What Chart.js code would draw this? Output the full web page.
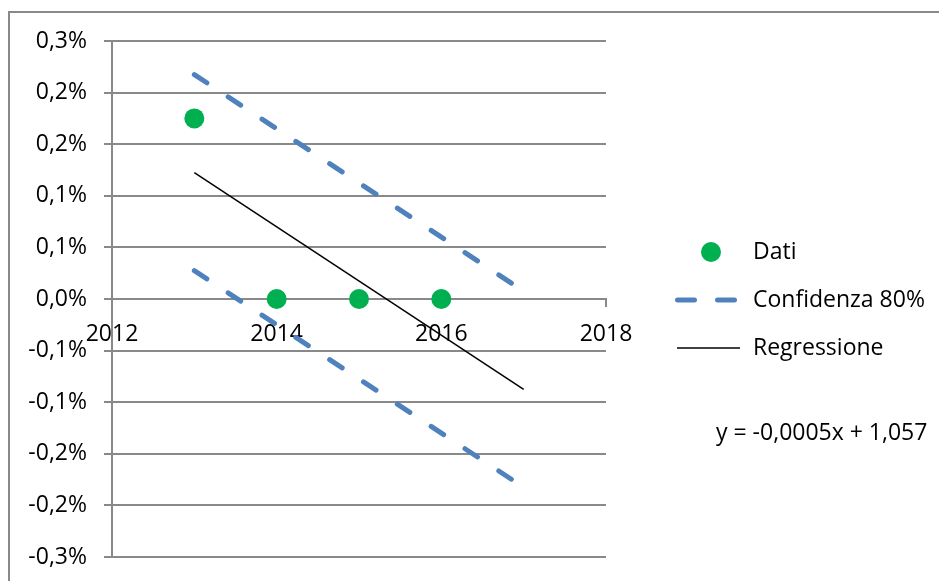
<!DOCTYPE html>
<html>
<head>
<meta charset="utf-8">
<script src="https://cdn.jsdelivr.net/npm/chart.js"></script>
<style>
  html, body { margin: 0; padding: 0; background: #fff; overflow: hidden; }
  #wrap { position: relative; width: 939px; height: 581px; }
  #frame { position: absolute; left: 8px; top: 11px; width: 1000px; height: 1000px; border: 2px solid #898989; }
  canvas { position: absolute; left: 0; top: 0; }
</style>
</head>
<body>
<div id="wrap">
  <div id="frame"></div>
  <canvas id="myChart" width="939" height="581"></canvas>
</div>
<script>
// data
const dataYears = [2013, 2014, 2015, 2016];
const dataValues = [0.00175, 0, 0, 0];

const lineYears = [2013, 2017];
const regressionValues = [0.001225, -0.000875];
const upperValues = [0.002175, 0.000075];
const lowerValues = [0.000275, -0.001825];

const xTickValues = [2012, 2014, 2016, 2018];
const xTickLabels = ['2012', '2014', '2016', '2018'];
// bottom to top
const yTickValues = [-0.0025, -0.002, -0.0015, -0.001, -0.0005, 0, 0.0005, 0.001, 0.0015, 0.002, 0.0025];
const yTickLabels = ['-0,3%', '-0,2%', '-0,2%', '-0,1%', '-0,1%', '0,0%', '0,1%', '0,1%', '0,2%', '0,2%', '0,3%'];

const equationText = 'y = -0,0005x + 1,057';

const green = '#00B050';
const blue = '#4F81BD';
const gridGray = '#898989';
const fontFamily = '"Open Sans", sans-serif';
const fontSize = 23;

function toPoints(xs, ys) {
  return xs.map((x, i) => ({x: x, y: ys[i]}));
}

// legend drawn by hand, Excel style
const sideLegend = {
  id: 'sideLegend',
  afterDraw(chart) {
    const ctx = chart.ctx;
    ctx.save();
    ctx.font = fontSize + 'px ' + fontFamily;
    ctx.fillStyle = '#000';
    ctx.textBaseline = 'alphabetic';
    ctx.textAlign = 'left';

    // Dati
    ctx.beginPath();
    ctx.arc(711, 252, 10, 0, Math.PI * 2);
    ctx.fillStyle = green;
    ctx.fill();
    ctx.fillStyle = '#000';
    ctx.fillText('Dati', 753, 259);

    // Confidenza
    ctx.beginPath();
    ctx.strokeStyle = blue;
    ctx.lineWidth = 5;
    ctx.lineCap = 'round';
    ctx.setLineDash([17, 23]);
    ctx.moveTo(677.5, 300);
    ctx.lineTo(735, 300);
    ctx.stroke();
    ctx.setLineDash([]);
    ctx.fillText('Confidenza 80%', 753, 307);

    // Regressione
    ctx.beginPath();
    ctx.strokeStyle = '#000';
    ctx.lineWidth = 1.5;
    ctx.lineCap = 'butt';
    ctx.moveTo(677, 348);
    ctx.lineTo(740, 348);
    ctx.stroke();
    ctx.fillText('Regressione', 753, 355);

    ctx.fillText(equationText, 716, 440);
    ctx.restore();
  }
};

const ctx = document.getElementById('myChart');

new Chart(ctx, {
  type: 'scatter',
  data: {
    datasets: [
      {
        label: 'Dati',
        data: toPoints(dataYears, dataValues),
        backgroundColor: green,
        borderWidth: 0,
        pointRadius: 10,
        showLine: false
      },
      {
        label: 'Confidenza 80%',
        data: toPoints(lineYears, upperValues),
        borderColor: blue,
        borderWidth: 5,
        borderDash: [15, 25.5],
        borderCapStyle: 'round',
        pointRadius: 0,
        showLine: true
      },
      {
        label: 'Confidenza 80%',
        data: toPoints(lineYears, lowerValues),
        borderColor: blue,
        borderWidth: 5,
        borderDash: [15, 25.5],
        borderCapStyle: 'round',
        pointRadius: 0,
        showLine: true
      },
      {
        label: 'Regressione',
        data: toPoints(lineYears, regressionValues),
        borderColor: '#000',
        borderWidth: 1.5,
        pointRadius: 0,
        showLine: true
      }
    ]
  },
  options: {
    responsive: false,
    animation: false,
    layout: {
      padding: {left: 0, top: 41, right: 333, bottom: 24}
    },
    plugins: {
      legend: {display: false},
      tooltip: {enabled: false}
    },
    scales: {
      x: {
        type: 'linear',
        position: {y: 0},
        min: 2012,
        max: 2018,
        afterBuildTicks(scale) {
          scale.ticks = xTickValues.map(v => ({value: v}));
        },
        ticks: {
          color: '#000',
          font: {family: fontFamily, size: fontSize},
          padding: 15,
          maxRotation: 0,
          callback: (v, i) => xTickLabels[i]
        },
        grid: {
          display: true,
          drawOnChartArea: false,
          drawTicks: true,
          tickLength: 7,
          color: gridGray,
          lineWidth: 2
        },
        border: {display: true, color: gridGray, width: 2}
      },
      y: {
        type: 'linear',
        min: -0.0025,
        max: 0.0025,
        afterBuildTicks(scale) {
          scale.ticks = yTickValues.map(v => ({value: v}));
        },
        afterFit(scale) {
          scale.width = 112;
          scale.paddingTop = 0;
          scale.paddingBottom = 0;
        },
        ticks: {
          color: '#000',
          font: {family: fontFamily, size: fontSize},
          padding: 17,
          callback: (v, i) => yTickLabels[i]
        },
        grid: {
          color: gridGray,
          lineWidth: 2,
          tickLength: 8
        },
        border: {display: true, color: gridGray, width: 2}
      }
    }
  },
  plugins: [sideLegend]
});
</script>
</body>
</html>
